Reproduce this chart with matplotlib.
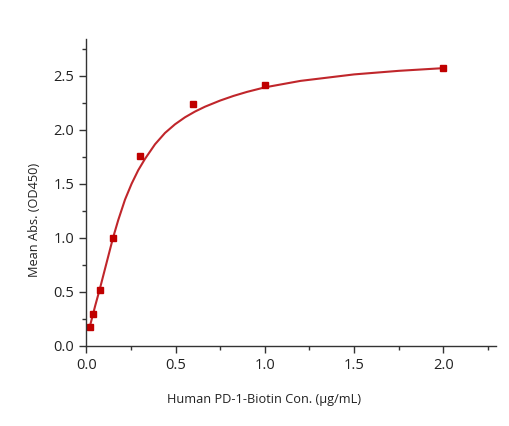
import numpy as np
import matplotlib.pyplot as plt
from matplotlib.ticker import MultipleLocator

conc = [0.01875, 0.0375, 0.075, 0.15, 0.3, 0.6, 1.0, 2.0]
od450 = [0.17, 0.29, 0.52, 1.00, 1.76, 2.24, 2.41, 2.57]

# fitted curve at sample positions
fit_x = [0.01875, 0.0375, 0.05, 0.075, 0.1, 0.125, 0.15, 0.179, 0.217, 0.254,
         0.291, 0.329, 0.385, 0.441, 0.497, 0.553, 0.609, 0.665, 0.75, 0.825,
         0.9, 1.0, 1.2, 1.5, 1.75, 2.0]
fit_y = [0.17, 0.29, 0.37, 0.52, 0.68, 0.84, 1.00, 1.163, 1.353, 1.50,
         1.625, 1.73, 1.865, 1.97, 2.05, 2.115, 2.168, 2.213, 2.27, 2.313,
         2.35, 2.392, 2.452, 2.512, 2.545, 2.57]

x_ticks = [0.0, 0.5, 1.0, 1.5, 2.0]
y_ticks = [0.0, 0.5, 1.0, 1.5, 2.0, 2.5]

plt.rcParams['font.family'] = ['Open Sans', 'DejaVu Sans']

fig = plt.figure(figsize=(5.09, 4.26), dpi=100)
ax = fig.add_axes([0.1695, 0.1885, 0.805, 0.72])

ax.plot(fit_x, fit_y, color='#c0262b', lw=1.5, solid_joinstyle='round')
ax.plot(conc, od450, 's', color='#c00000', ms=5, mec='#c00000')

ax.set_xlim(0, 2.295)
ax.set_ylim(0, 2.84)
ax.set_xticks(x_ticks)
ax.set_yticks(y_ticks)
ax.xaxis.set_minor_locator(MultipleLocator(0.25))
ax.yaxis.set_minor_locator(MultipleLocator(0.25))

for s in ['top', 'right']:
    ax.spines[s].set_visible(False)
for s in ['left', 'bottom']:
    ax.spines[s].set_color('#333333')
    ax.spines[s].set_linewidth(1.0)

ax.tick_params(which='both', direction='out', color='#333333', width=1.0)
ax.tick_params(which='major', length=5, labelsize=10.5, labelcolor='#222222')
ax.tick_params(which='minor', length=3)

ax.set_xlabel('Human PD-1-Biotin Con. (μg/mL)', fontsize=9.2, color='#222222')
ax.set_ylabel('Mean Abs. (OD450)', fontsize=9.2, color='#222222')
ax.xaxis.set_label_coords(0.435, -0.155)
ax.yaxis.set_label_coords(-0.11, 0.41)

fig.savefig('out.png', dpi=100, facecolor='white')
